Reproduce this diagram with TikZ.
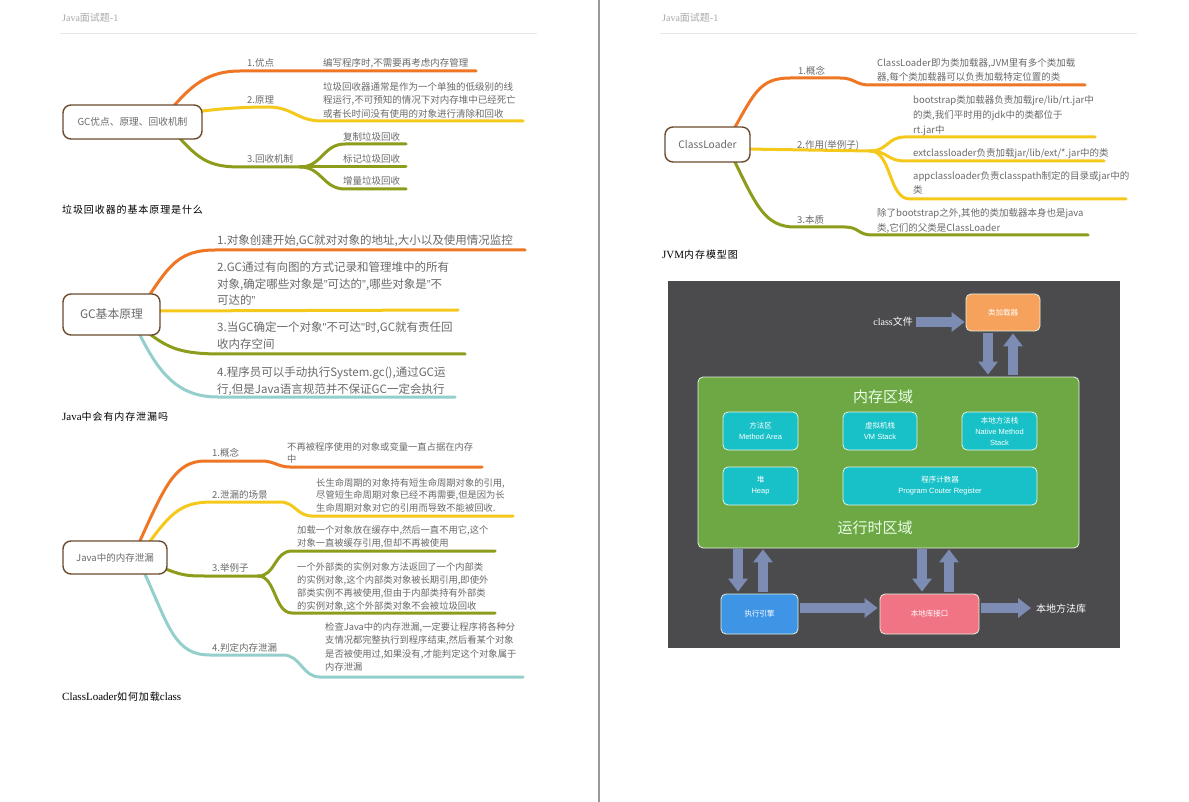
\documentclass[tikz,border=0pt]{standalone}
\usepackage{fontspec}
\setmainfont{Noto Sans CJK SC}
\newfontfamily\serf{Liberation Serif}
\newfontfamily\arl{Liberation Sans}
\newfontfamily\capf{Noto Sans CJK SC}[LetterSpace=9]
\usetikzlibrary{arrows.meta,calc,backgrounds}
\newcommand\fsz[2]{\fontsize{#1}{#2}\selectfont}
\newcommand\myrq{{\arl ”}}
\newcommand\mysq{{\arl "}}
\definecolor{cO}{HTML}{EE7624}
\definecolor{cY}{HTML}{F5C81C}
\definecolor{cOl}{HTML}{8E9C1C}
\definecolor{cT}{HTML}{95CFCB}
\definecolor{brownc}{HTML}{6B4A2E}
\definecolor{txt}{HTML}{6A6A6A}
\definecolor{jbg}{HTML}{4B4B4D}
\definecolor{cGreen}{HTML}{6EA844}
\definecolor{cCyan}{HTML}{17C1C7}
\definecolor{cLoad}{HTML}{F7A25C}
\definecolor{cExec}{HTML}{3E95E5}
\definecolor{cNat}{HTML}{F17484}
\definecolor{arrc}{HTML}{7D8CB3}
\definecolor{jborder}{HTML}{E6F2E0}
\definecolor{hdrc}{HTML}{A8A8A8}
\definecolor{rulec}{HTML}{E6E6E6}
\definecolor{sepc}{HTML}{999999}
\begin{document}
\begin{tikzpicture}[x=1pt,y=-1pt,
  root/.style={draw=brownc, line width=1.4pt, rounded corners=8pt, fill=white, text=txt, inner sep=0pt},
  mtext/.style={anchor=north west, inner sep=0pt, text=txt, align=left, font=\fsz{9.5}{13.5}},
  mtextb/.style={anchor=north west, inner sep=0pt, text=txt, align=left, font=\fsz{11.5}{16.5}},
  blabel/.style={anchor=west, inner sep=0pt, text=txt, font=\fsz{9.5}{12}},
  br/.style={line width=3pt, line cap=round},
  hdr/.style={anchor=west, inner sep=0pt, text=hdrc, font=\fsz{10}{12}},
  capt/.style={anchor=west, inner sep=0pt, text=black, font=\capf\fsz{10}{12}},
  jbox/.style={draw=jborder, line width=0.8pt, rounded corners=5pt, text=white, align=center, inner sep=0pt, font=\fsz{7.5}{11}},
  jtitle/.style={inner sep=0pt, text=white!92!green, font=\fsz{15}{18}},
  jlbl/.style={inner sep=0pt, text=white, font=\fsz{10}{12}},
  fat/.style={draw=arrc, line width=10pt, -{Triangle[width=19pt,length=13pt]}},
]
\useasboundingbox (0,0) rectangle (1189,802);

% ---------- headers ----------
\node[hdr] (h1) at (62,18) {{\serf Java}面试题{\serf -1}};
\node[hdr] (h2) at (662,18) {{\serf Java}面试题{\serf -1}};
\draw[rulec, line width=0.8pt] (60,33) -- (537,33);
\draw[rulec, line width=0.8pt] (660,33) -- (1137,33);
\draw[sepc, line width=1.2pt] (599,0) -- (599,802);

% ---------- mind map 1 ----------
\node[root, minimum width=139pt, minimum height=34pt, font=\fsz{9.7}{12}] (r1) at (132.5,122) {GC优点、原理、回收机制};
\node[blabel] (l11) at (247,63) {1.优点};
\node[blabel] (l12) at (247,100) {2.原理};
\node[blabel] (l13) at (247,159) {3.回收机制};
\node[mtext] (t11) at (323,58) {编写程序时,不需要再考虑内存管理};
\node[mtext] (t12) at (323,82) {垃圾回收器通常是作为一个单独的低级别的线\\程运行,不可预知的情况下对内存堆中已经死亡\\或者长时间没有使用的对象进行清除和回收};
\node[blabel] (t13) at (343,137) {复制垃圾回收};
\node[blabel] (t14) at (343,159) {标记垃圾回收};
\node[blabel] (t15) at (343,181) {增量垃圾回收};
\node[capt] (c1) at (62,210) {垃圾回收器的基本原理是什么};

% ---------- mind map 2 ----------
\node[root, minimum width=97pt, minimum height=41pt, font=\fsz{11.8}{14}] (r2) at (111.5,314.5) {GC基本原理};
\node[mtextb] (t21) at (217,235) {1.对象创建开始,GC就对对象的地址,大小以及使用情况监控};
\node[mtextb] (t22) at (217,262) {2.GC通过有向图的方式记录和管理堆中的所有\\对象,确定哪些对象是\myrq 可达的\myrq,哪些对象是\myrq 不\\可达的\myrq};
\node[mtextb] (t23) at (217,322) {3.当GC确定一个对象\mysq 不可达\mysq 时,GC就有责任回\\收内存空间};
\node[mtextb] (t24) at (217,367) {4.程序员可以手动执行System.gc(),通过GC运\\行,但是Java语言规范并不保证GC一定会执行};
\node[capt] (c2) at (62,417) {{\serf\fsz{11}{12}Java}中会有内存泄漏吗};

% ---------- mind map 3 ----------
\node[root, minimum width=104pt, minimum height=33pt, font=\fsz{9.5}{12}] (r3) at (115,557.5) {Java中的内存泄漏};
\node[blabel] (l31) at (212,453) {1.概念};
\node[blabel] (l32) at (212,495) {2.泄漏的场景};
\node[blabel] (l33) at (212,568) {3.举例子};
\node[blabel] (l34) at (212,648) {4.判定内存泄漏};
\node[mtext, font=\fsz{9.3}{12.5}] (t31) at (287,442) {不再被程序使用的对象或变量一直占据在内存\\中};
\node[mtext, font=\fsz{9.3}{12.5}] (t32) at (316,478) {长生命周期的对象持有短生命周期对象的引用,\\尽管短生命周期对象已经不再需要,但是因为长\\生命周期对象对它的引用而导致不能被回收.};
\node[mtext, font=\fsz{9.3}{13}] (t33) at (297,525) {加载一个对象放在缓存中,然后一直不用它,这个\\对象一直被缓存引用,但却不再被使用};
\node[mtext, font=\fsz{9.3}{13}] (t34) at (297,562) {一个外部类的实例对象方法返回了一个内部类\\的实例对象,这个内部类对象被长期引用,即使外\\部类实例不再被使用,但由于内部类持有外部类\\的实例对象,这个外部类对象不会被垃圾回收};
\node[mtext, font=\fsz{9.3}{13.6}] (t35) at (325,622) {检查Java中的内存泄漏,一定要让程序将各种分\\支情况都完整执行到程序结束,然后看某个对象\\是否被使用过,如果没有,才能判定这个对象属于\\内存泄漏};
\node[capt] (c3) at (62,697) {{\serf\fsz{11}{12}ClassLoader}如何加载{\serf\fsz{11}{12}class}};

% ---------- mind map 4 ----------
\node[root, minimum width=85pt, minimum height=35pt, font=\fsz{10.3}{12}] (r4) at (707.5,144.5) {ClassLoader};
\node[blabel] (l41) at (798,71) {1.概念};
\node[blabel] (l42) at (797,145) {2.作用(举例子)};
\node[blabel] (l43) at (797,220) {3.本质};
\node[mtext, font=\fsz{9.5}{14}] (t41) at (877,58) {ClassLoader即为类加载器,JVM里有多个类加载\\器,每个类加载器可以负责加载特定位置的类};
\node[mtext, font=\fsz{9.5}{15}] (t42) at (913,95) {bootstrap类加载器负责加载jre/lib/rt.jar中\\的类,我们平时用的jdk中的类都位于\\rt.jar中};
\node[mtext] (t43) at (913,148) {extclassloader负责加载jar/lib/ext/*.jar中的类};
\node[mtext, font=\fsz{9.5}{14}] (t44) at (913,171) {appclassloader负责classpath制定的目录或jar中的\\类};
\node[mtext, font=\fsz{9.5}{15}] (t45) at (877,208) {除了bootstrap之外,其他的类加载器本身也是java\\类,它们的父类是ClassLoader};
\node[capt] (c4) at (662,255) {{\serf\fsz{11}{12}JVM}内存模型图};

% ---------- branches (behind the root boxes) ----------
\begin{scope}[on background layer]
\fill[white] (0,0) rectangle (1189,802);
% map 1
\coordinate (f1) at (300,167);
\draw[br,cO] ($(r1.north west)+(112,1)$) .. controls +(18,-20) and +(-32,0) .. (240,71) -- (476,71);
\draw[br,cY] ($(r1.east)+(-8,-10)$) .. controls +(30,-4) and +(-20,0) .. (268,107) .. controls +(25,0) and +(-25,0) .. (322,121) -- (523,121);
\draw[br,cOl] ($(r1.south west)+(117,-2)$) .. controls +(20,22) and +(-30,0) .. (240,167) -- (f1);
\draw[br,cOl] (f1) .. controls +(22,0) and +(-22,0) .. (345,144) -- (406,144);
\draw[br,cOl] (f1) -- (406,167);
\draw[br,cOl] (f1) .. controls +(22,0) and +(-22,0) .. (345,189) -- (406,189);
% map 2
\draw[br,cO] ($(r2.north west)+(87,2)$) .. controls +(20,-30) and +(-35,0) .. (215,250) -- (525,250);
\draw[br,cY] ($(r2.east)+(-5,-3.5)$) -- (458,310);
\draw[br,cOl] ($(r2.south west)+(87,-2)$) .. controls +(20,15) and +(-40,0) .. (222,354) -- (465,354);
\draw[br,cT] ($(r2.south west)+(77,-2)$) .. controls +(20,40) and +(-40,0) .. (218,397) -- (455,397);
% map 3
\coordinate (f3) at (258,576);
\draw[br,cO] ($(r3.north west)+(77,2)$) .. controls +(25,-55) and +(-30,0) .. (205,461) -- (262,461) .. controls +(12,0) and +(-12,0) .. (290,467) -- (482,467);
\draw[br,cY] ($(r3.north west)+(87,2)$) .. controls +(22,-30) and +(-30,0) .. (212,502) -- (280,502) .. controls +(15,0) and +(-15,0) .. (312,516) -- (513,516);
\draw[br,cOl] ($(r3.east)+(-7,9.5)$) .. controls +(20,8) and +(-20,0) .. (205,576) -- (f3);
\draw[br,cOl] (f3) .. controls +(18,0) and +(-18,0) .. (292,551) -- (495,551);
\draw[br,cOl] (f3) .. controls +(18,0) and +(-18,0) .. (292,613) -- (495,613);
\draw[br,cT] ($(r3.south west)+(82,-2)$) .. controls +(25,55) and +(-35,0) .. (210,655) -- (283,655) .. controls +(18,0) and +(-18,0) .. (320,677) -- (523,677);
% map 4
\coordinate (f4) at (870,151);
\draw[br,cO] ($(r4.north west)+(70,2)$) .. controls +(20,-35) and +(-30,0) .. (790,78) -- (840,78) .. controls +(15,0) and +(-15,0) .. (870,85) -- (1085,85);
\draw[br,cY] ($(r4.east)+(-5,4.5)$) -- (f4);
\draw[br,cY] (f4) .. controls +(18,0) and +(-18,0) .. (905,137) -- (1095,137);
\draw[br,cY] (f4) .. controls +(18,0) and +(-18,0) .. (905,161) -- (1104,161);
\draw[br,cY] (f4) .. controls +(22,0) and +(-22,0) .. (910,199) -- (1126,199);
\draw[br,cOl] ($(r4.south west)+(70,-2)$) .. controls +(22,45) and +(-30,0) .. (795,227) -- (845,227) .. controls +(14,0) and +(-14,0) .. (872,235) -- (1088,235);
\end{scope}

% ---------- JVM memory model ----------
\fill[jbg] (668,281) rectangle (1120,648);
\node[jbox, fill=cLoad, minimum width=74pt, minimum height=37pt] (ld) at (1003,312.5) {类加载器};
\node[jlbl, anchor=east] (cf) at (913,322) {{\serf class}文件};
\node[jbox, fill=cGreen, minimum width=381pt, minimum height=171pt] (mem) at (888.5,462.5) {};
\node[jtitle] (tt1) at (883,397) {内存区域};
\node[jtitle] (tt2) at (875,528) {运行时区域};
\node[jbox, fill=cCyan, minimum width=75pt, minimum height=38pt] (ma) at (760.5,431) {方法区\\{\arl Method Area}};
\node[jbox, fill=cCyan, minimum width=74pt, minimum height=38pt] (vm) at (880,431) {虚拟机栈\\{\arl VM Stack}};
\node[jbox, fill=cCyan, minimum width=75pt, minimum height=38pt] (nm) at (999.5,431) {本地方法栈\\{\arl Native Method}\\{\arl Stack}};
\node[jbox, fill=cCyan, minimum width=75pt, minimum height=38pt] (hp) at (760.5,486) {堆\\{\arl Heap}};
\node[jbox, fill=cCyan, minimum width=194pt, minimum height=38pt] (pc) at (940,486) {程序计数器\\{\arl Program Couter Register}};
\node[jbox, fill=cExec, minimum width=77pt, minimum height=40pt] (ex) at (759.5,614) {执行引擎};
\node[jbox, fill=cNat, minimum width=99pt, minimum height=40pt] (na) at (929.5,614) {本地库接口};
\node[jlbl, anchor=west] (lib) at (1036,609) {本地方法库};

\coordinate (hy) at (0,608);
\draw[fat, shorten <=3pt, shorten >=1pt] (cf.east) -- (cf.east -| ld.west);
\coordinate (d1) at ($(ld.south)+(-15,0)$);
\coordinate (u1) at ($(ld.south)+(10,0)$);
\draw[fat, shorten <=2pt, shorten >=2pt] (d1) -- (d1 |- mem.north);
\draw[fat, shorten <=2pt, shorten >=2pt] (u1 |- mem.north) -- (u1);
\coordinate (d2) at ($(ex.north)+(-21.5,0)$);
\coordinate (u2) at ($(ex.north)+(3.5,0)$);
\coordinate (d3) at ($(na.north)+(-7.5,0)$);
\coordinate (u3) at ($(na.north)+(19.5,0)$);
\draw[fat, shorten <=1pt, shorten >=2pt] (d2 |- mem.south) -- (d2);
\draw[fat, shorten <=2pt, shorten >=1pt] (u2) -- (u2 |- mem.south);
\draw[fat, shorten <=1pt, shorten >=2pt] (d3 |- mem.south) -- (d3);
\draw[fat, shorten <=2pt, shorten >=1pt] (u3) -- (u3 |- mem.south);
\draw[fat, shorten <=2pt, shorten >=2pt] (ex.east |- hy) -- (na.west |- hy);
\draw[fat, shorten <=2pt, shorten >=5pt] (na.east |- hy) -- (lib.west |- hy);
\end{tikzpicture}
\end{document}
